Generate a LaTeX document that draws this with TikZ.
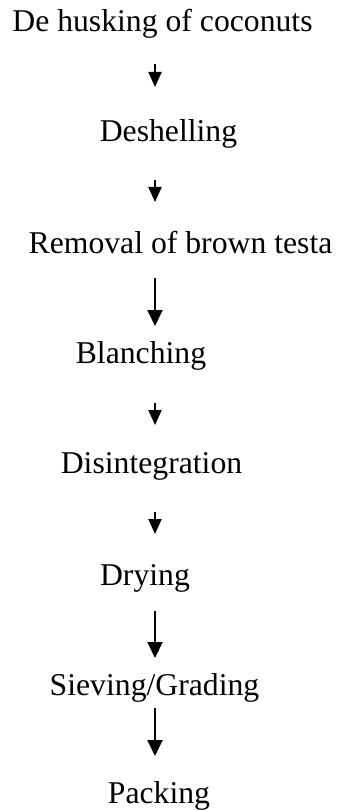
\documentclass[tikz,border=0pt]{standalone}
\usepackage{fontspec}
\setmainfont{Liberation Serif}
\usetikzlibrary{arrows.meta}
\begin{document}
\begin{tikzpicture}[x=1pt,y=-1pt,
  lbl/.style={anchor=base,inner sep=0pt,font=\fontsize{31.7}{38}\selectfont},
  shortarr/.style={line width=2pt,-{Triangle[width=13pt,length=15pt]}},
  longarr/.style={line width=2pt,-{Triangle[width=15pt,length=16pt]}}]
\useasboundingbox (0,0) rectangle (337,810);
\node[lbl] (t1) at (162.5,32) {De husking of coconuts};
\node[lbl] (t2) at (168.5,142) {Deshelling};
\node[lbl] (t3) at (180.5,253) {Removal of brown testa};
\node[lbl] (t4) at (141,363) {Blanching};
\node[lbl] (t5) at (151.5,473) {Disintegration};
\node[lbl] (t6) at (145,585) {Drying};
\node[lbl] (t7) at (154.5,695) {Sieving/Grading};
\node[lbl] (t8) at (159,803) {Packing};
\coordinate (a1s) at (155,64);  \coordinate (a1e) at (155,87);
\coordinate (a2s) at (155,180); \coordinate (a2e) at (155,202);
\coordinate (a3s) at (155,278); \coordinate (a3e) at (155,326);
\coordinate (a4s) at (155,403); \coordinate (a4e) at (155,425);
\coordinate (a5s) at (155,512); \coordinate (a5e) at (155,534);
\coordinate (a6s) at (155,611); \coordinate (a6e) at (155,658);
\coordinate (a7s) at (155,708); \coordinate (a7e) at (155,756);
\draw[shortarr] (a1s) -- (a1e);
\draw[shortarr] (a2s) -- (a2e);
\draw[longarr] (a3s) -- (a3e);
\draw[shortarr] (a4s) -- (a4e);
\draw[shortarr] (a5s) -- (a5e);
\draw[longarr] (a6s) -- (a6e);
\draw[longarr] (a7s) -- (a7e);
\end{tikzpicture}
\end{document}
